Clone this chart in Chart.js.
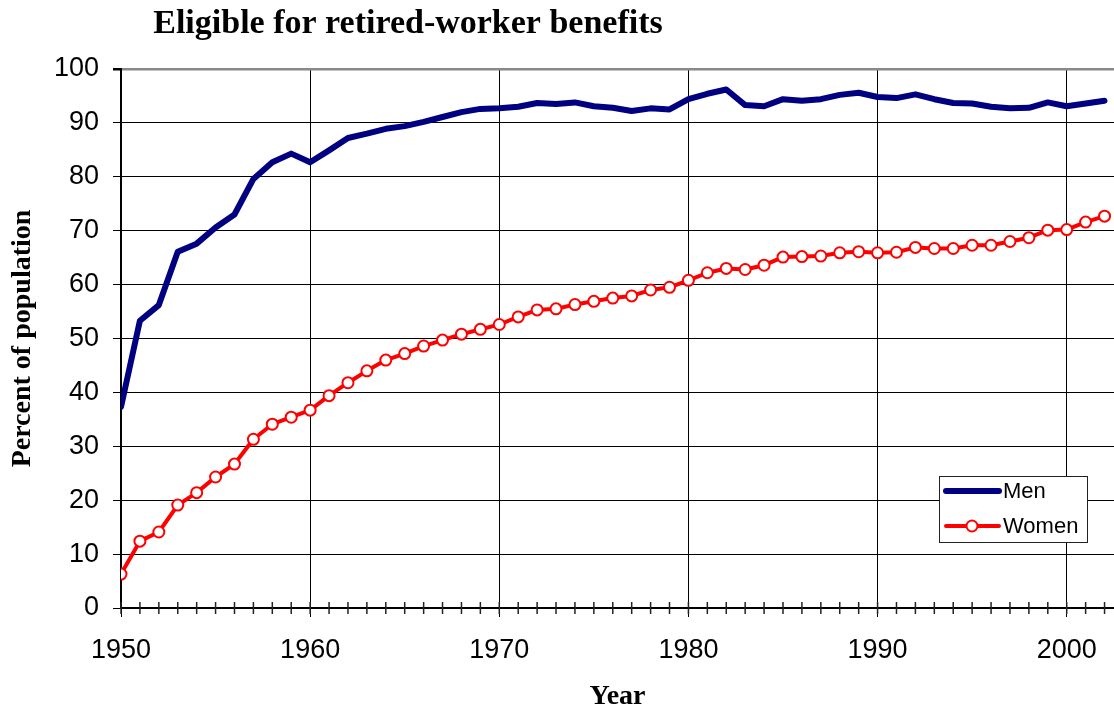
<!DOCTYPE html>
<html>
<head>
<meta charset="utf-8">
<title>Eligible for retired-worker benefits</title>
<script src="https://cdn.jsdelivr.net/npm/chart.js@4.4.1/dist/chart.umd.min.js"></script>
<style>
  html, body { margin: 0; padding: 0; background: #fff; }
  #wrap { width: 1114px; height: 714px; }
</style>
</head>
<body>
<div id="wrap"><canvas id="chart" width="1114" height="714"></canvas></div>
<script>
// values
const years = [
  1950, 1951, 1952, 1953, 1954, 1955, 1956, 1957, 1958, 1959,
  1960, 1961, 1962, 1963, 1964, 1965, 1966, 1967, 1968, 1969,
  1970, 1971, 1972, 1973, 1974, 1975, 1976, 1977, 1978, 1979,
  1980, 1981, 1982, 1983, 1984, 1985, 1986, 1987, 1988, 1989,
  1990, 1991, 1992, 1993, 1994, 1995, 1996, 1997, 1998, 1999,
  2000, 2001, 2002
];
const menPct = [
  37.3, 53.3, 56.2, 66.1, 67.6, 70.6, 73.0, 79.6, 82.7, 84.3,
  82.7, 84.9, 87.2, 88.0, 88.9, 89.4, 90.2, 91.1, 92.0, 92.6,
  92.7, 93.0, 93.7, 93.5, 93.8, 93.1, 92.8, 92.2, 92.7, 92.5,
  94.4, 95.4, 96.2, 93.3, 93.1, 94.4, 94.1, 94.4, 95.2, 95.6,
  94.8, 94.6, 95.3, 94.4, 93.7, 93.6, 93.0, 92.7, 92.8, 93.8,
  93.1, 93.6, 94.1
];
const womenPct = [
  6.3, 12.4, 14.1, 19.1, 21.4, 24.3, 26.7, 31.3, 34.1, 35.4,
  36.7, 39.4, 41.8, 44.0, 46.0, 47.2, 48.6, 49.7, 50.8, 51.7,
  52.6, 54.0, 55.3, 55.5, 56.3, 56.9, 57.5, 57.9, 59.0, 59.5,
  60.8, 62.2, 63.0, 62.8, 63.6, 65.1, 65.2, 65.3, 65.9, 66.1,
  65.9, 66.0, 66.9, 66.7, 66.7, 67.3, 67.3, 68.0, 68.7, 70.1,
  70.2, 71.6, 72.7
];
const yearTicks = [1950, 1960, 1970, 1980, 1990, 2000];
const pctTicks = [0, 10, 20, 30, 40, 50, 60, 70, 80, 90, 100];

const sansFont = "'Liberation Sans', Arial, sans-serif";
const serifFont = "'Liberation Serif', 'Times New Roman', serif";

// title sits left of centre in the original, so draw it ourselves
const titlePlugin = {
    id: 'titlePlugin',
    afterDraw(chart) {
        const ctx = chart.ctx;
        ctx.save();
        ctx.fillStyle = '#000';
        ctx.font = 'bold 34px ' + serifFont;
        ctx.textAlign = 'center';
        ctx.textBaseline = 'alphabetic';
        ctx.fillText('Eligible for retired-worker benefits', 408, 33);
        ctx.restore();
    }
};

// small tick for every year across the x axis
const minorTicks = {
    id: 'minorTicks',
    afterDraw(chart) {
        const xs = chart.scales.x;
        const ctx = chart.ctx;
        const y0 = chart.chartArea.bottom;
        ctx.save();
        ctx.strokeStyle = '#222';
        ctx.lineWidth = 1.5;
        years.forEach(yr => {
            const px = xs.getPixelForValue(yr);
            ctx.beginPath();
            ctx.moveTo(px, y0 - 6);
            ctx.lineTo(px, y0 + 6);
            ctx.stroke();
        });
        ctx.restore();
    }
};

// boxed legend inside the plot, lower right
const boxLegend = {
    id: 'boxLegend',
    afterDraw(chart) {
        const ctx = chart.ctx;
        const ds = chart.data.datasets;
        const bx = 939, by = 476, bw = 148, bh = 66;
        ctx.save();
        ctx.fillStyle = '#fff';
        ctx.fillRect(bx, by, bw, bh);
        ctx.strokeStyle = '#222';
        ctx.lineWidth = 1;
        ctx.strokeRect(bx + 0.5, by + 0.5, bw, bh);

        const rows = [491, 526];
        ds.forEach((d, i) => {
            const y = rows[i];
            ctx.strokeStyle = d.borderColor;
            ctx.lineWidth = d.borderWidth;
            ctx.lineCap = 'round';
            ctx.beginPath();
            ctx.moveTo(946, y);
            ctx.lineTo(999, y);
            ctx.stroke();
            if (d.pointRadius > 0) {
                ctx.beginPath();
                ctx.arc(972, y, d.pointRadius, 0, Math.PI * 2);
                ctx.fillStyle = d.pointBackgroundColor;
                ctx.fill();
                ctx.lineWidth = d.pointBorderWidth;
                ctx.strokeStyle = d.borderColor;
                ctx.stroke();
            }
            ctx.fillStyle = '#000';
            ctx.font = '22px ' + sansFont;
            ctx.textAlign = 'left';
            ctx.textBaseline = 'middle';
            ctx.fillText(d.label, 1003, y + 1);
        });
        ctx.restore();
    }
};

const ctx = document.getElementById('chart').getContext('2d');
new Chart(ctx, {
    type: 'line',
    data: {
        datasets: [{
            label: 'Men',
            data: years.map((yr, i) => ({ x: yr, y: menPct[i] })),
            borderColor: '#000080',
            borderWidth: 6,
            borderCapStyle: 'round',
            borderJoinStyle: 'round',
            pointRadius: 0,
            pointHoverRadius: 0,
            tension: 0
        }, {
            label: 'Women',
            data: years.map((yr, i) => ({ x: yr, y: womenPct[i] })),
            borderColor: '#ff0000',
            borderWidth: 4,
            borderJoinStyle: 'round',
            pointRadius: 5.5,
            pointBorderWidth: 2,
            pointBackgroundColor: '#ffffff',
            pointBorderColor: '#ff0000',
            tension: 0
        }]
    },
    options: {
        responsive: false,
        animation: false,
        layout: { autoPadding: false, padding: { top: 69, left: 0, right: 0, bottom: 0 } },
        plugins: {
            legend: { display: false },
            tooltip: { enabled: false }
        },
        scales: {
            x: {
                type: 'linear',
                min: 1950,
                max: 2002.5,
                afterBuildTicks: s => { s.ticks = yearTicks.map(v => ({ value: v })); },
                afterFit: s => { s.height = 106; },
                ticks: {
                    color: '#000',
                    font: { family: sansFont, size: 27 },
                    padding: 17,
                    maxRotation: 0,
                    callback: v => String(v)
                },
                grid: {
                    color: '#000',
                    lineWidth: 1,
                    drawTicks: true,
                    tickLength: 9,
                    tickColor: '#000'
                },
                border: { display: true, color: '#000', width: 2 },
                title: {
                    display: true,
                    text: 'Year',
                    color: '#000',
                    font: { family: serifFont, size: 28, weight: 'bold' },
                    padding: 0
                }
            },
            y: {
                min: 0,
                max: 100,
                afterBuildTicks: s => { s.ticks = pctTicks.map(v => ({ value: v })); },
                afterFit: s => { s.width = 121; },
                ticks: {
                    color: '#000',
                    font: { family: sansFont, size: 27 },
                    padding: 14
                },
                grid: {
                    color: c => (c.tick && c.tick.value === 100) ? '#888' : '#000',
                    lineWidth: c => (c.tick && c.tick.value === 100) ? 2.5 : 1,
                    drawTicks: true,
                    tickLength: 8,
                    tickColor: '#000'
                },
                border: { display: true, color: '#000', width: 2 },
                title: {
                    display: true,
                    text: 'Percent of population',
                    color: '#000',
                    font: { family: serifFont, size: 28, weight: 'bold' },
                    padding: 6
                }
            }
        }
    },
    plugins: [titlePlugin, minorTicks, boxLegend]
});
</script>
</body>
</html>
